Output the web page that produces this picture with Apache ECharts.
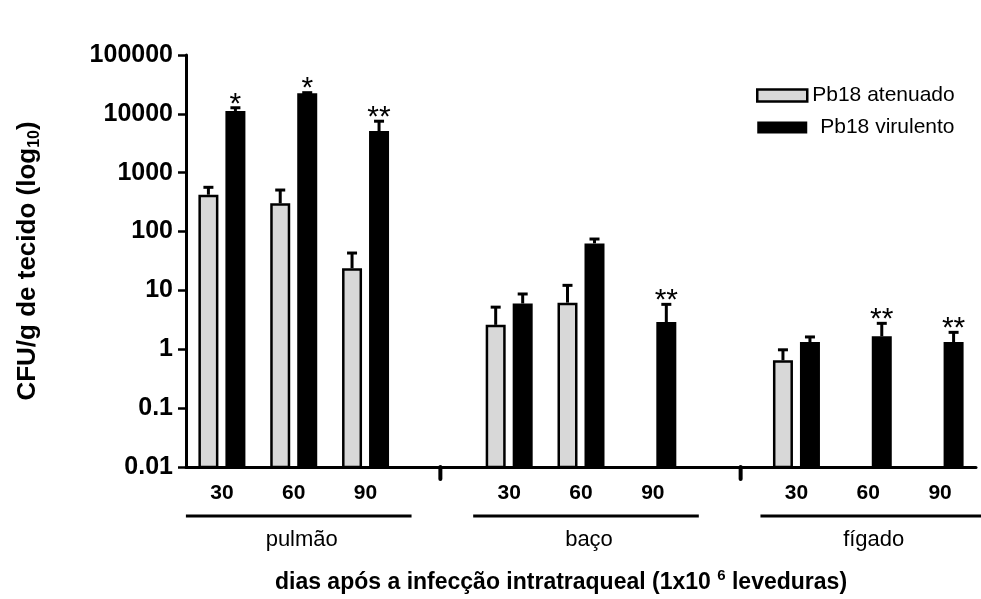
<!DOCTYPE html>
<html>
<head>
<meta charset="utf-8">
<script src="https://cdn.jsdelivr.net/npm/echarts@6/dist/echarts.min.js"></script>
<style>
  html, body { margin: 0; padding: 0; background: #fff; }
  #chart { width: 981px; height: 599px; }
</style>
</head>
<body>
<div id="chart"></div>
<script>
// Organs and sampling days (x axis groups and tick labels)
const organs = ['pulmão', 'baço', 'fígado'];
const days = ['30', '60', '90'];
const yTickLabels = ['0.01', '0.1', '1', '10', '100', '1000', '10000', '100000'];
const seriesNames = ['Pb18 atenuado', 'Pb18 virulento'];

// CFU/g of tissue, ordered pulmão 30/60/90, baço 30/60/90, fígado 30/60/90
const atenuadoMean = [423, 302, 23.8, 2.6, 6.2, null, 0.65, null, null];
const atenuadoErr  = [142, 206, 19.4, 2.6, 6.0, null, 0.33, null, null];
const atenuadoSig  = ['', '', '', '', '', '', '', '', ''];
const virulentoMean = [11200, 22300, 5100, 6.0, 63, 2.9, 1.33, 1.66, 1.33];
const virulentoErr  = [1500, 600, 2400, 2.7, 11.7, 2.9, 0.29, 1.1, 0.61];
const virulentoSig  = ['*', '*', '**', '', '', '**', '', '**', '**'];

const Y_MIN = 0.01, Y_MAX = 100000;
const FONT = '"Liberation Sans", Arial, sans-serif';

// Category slots: three days per organ, with an empty slot between organs
const catKeys = [], catLabels = [], slotOf = [];
organs.forEach((organ, o) => {
  days.forEach(d => { slotOf.push(catKeys.length); catKeys.push(organ + ' ' + d); catLabels.push(d); });
  if (o < organs.length - 1) { catKeys.push('gap' + o); catLabels.push(''); }
});

function buildData(means, errs) {
  const out = [];
  means.forEach((m, i) => { if (m != null) out.push([catKeys[slotOf[i]], m, errs[i], i]); });
  return out;
}

function barRenderer(shift, fill, stroke, sigs) {
  const BW = 20;
  return function (params, api) {
    const x = api.value(0), mean = api.value(1), err = api.value(2), idx = api.value(3);
    const top = api.coord([x, mean]);
    const base = api.coord([x, Y_MIN]);
    const cap = api.coord([x, mean + err]);
    const cx = top[0] + shift;
    const lw = stroke ? 2.5 : 0;
    const children = [
      { type: 'line', shape: { x1: cx, y1: top[1], x2: cx, y2: cap[1] }, style: { stroke: '#000', lineWidth: 3 } },
      { type: 'line', shape: { x1: cx - 5, y1: cap[1], x2: cx + 5, y2: cap[1] }, style: { stroke: '#000', lineWidth: 3 } },
      { type: 'rect',
        shape: { x: cx - (BW - lw) / 2, y: top[1] + lw / 2, width: BW - lw, height: base[1] - top[1] - lw / 2 },
        style: { fill: fill, stroke: stroke || null, lineWidth: lw } }
    ];
    const s = sigs[idx];
    if (s) {
      children.push({ type: 'text', x: cx, y: cap[1] - 3.5,
        style: { text: s, fill: '#000', font: '30px ' + FONT, align: 'center', verticalAlign: 'middle' } });
    }
    return { type: 'group', children: children };
  };
}

const chart = echarts.init(document.getElementById('chart'), null, { renderer: 'canvas' });

const option = {
  backgroundColor: '#fff',
  animation: false,
  grid: { left: 186, right: 5, top: 55, bottom: 132 },
  legend: {
    orient: 'vertical', left: 751, top: 80, itemWidth: 50, itemHeight: 12, itemGap: 11,
    textStyle: { fontFamily: FONT, fontSize: 21, color: '#000' },
    data: [
      { name: seriesNames[0], icon: 'rect', itemStyle: { color: '#d8d8d8', borderColor: '#000', borderWidth: 2.5 },
        textStyle: { padding: [0, 0, 0, 0] } },
      { name: seriesNames[1], icon: 'rect', itemStyle: { color: '#000' },
        textStyle: { padding: [0, 0, 0, 8] } }
    ]
  },
  xAxis: {
    type: 'category', data: catKeys,
    axisLine: { lineStyle: { color: '#000', width: 3 } },
    axisTick: { show: false },
    axisLabel: { interval: 0, margin: 16, color: '#000', fontFamily: FONT, fontWeight: 'bold', fontSize: 21,
      formatter: (v, i) => catLabels[i] },
    name: '{a|dias após a infecção intratraqueal (1x10 }{sup|6}{a| leveduras)}',
    nameLocation: 'middle', nameGap: 101,
    nameTextStyle: { padding: [0, 40, 0, 0],
      rich: {
        a: { fontFamily: FONT, fontWeight: 'bold', fontSize: 23, color: '#000', lineHeight: 26 },
        sup: { fontFamily: FONT, fontWeight: 'bold', fontSize: 15, color: '#000', padding: [0, 0, 14, 0] }
      } }
  },
  yAxis: {
    type: 'log', logBase: 10, min: Y_MIN, max: Y_MAX, interval: 1,
    axisLine: { show: true, lineStyle: { color: '#000', width: 3 } },
    axisTick: { show: true, length: 8, lineStyle: { color: '#000', width: 2.5 } },
    splitLine: { show: false },
    axisLabel: { margin: 13, color: '#000', fontFamily: FONT, fontWeight: 'bold', fontSize: 25,
      formatter: v => yTickLabels[Math.round(Math.log10(v)) + 2] },
    name: '{a|CFU/g de tecido (log}{sub|10}{a|)}',
    nameLocation: 'middle', nameRotate: 90, nameGap: 143,
    nameTextStyle: {
      rich: {
        a: { fontFamily: FONT, fontWeight: 'bold', fontSize: 26, color: '#000', lineHeight: 30 },
        sub: { fontFamily: FONT, fontWeight: 'bold', fontSize: 16, color: '#000', verticalAlign: 'bottom', lineHeight: 30 }
      } }
  },
  series: [
    { name: seriesNames[0], type: 'custom', itemStyle: { color: '#d8d8d8' },
      renderItem: barRenderer(-13.5, '#d8d8d8', '#000', atenuadoSig),
      encode: { x: 0, y: 1 }, data: buildData(atenuadoMean, atenuadoErr) },
    { name: seriesNames[1], type: 'custom', itemStyle: { color: '#000' },
      renderItem: barRenderer(13.5, '#000', null, virulentoSig),
      encode: { x: 0, y: 1 }, data: buildData(virulentoMean, virulentoErr) }
  ]
};
chart.setOption(option);

// Organ group underlines, organ names and axis break marks below the category axis
const px = key => chart.convertToPixel({ xAxisIndex: 0 }, key);
const axisY = chart.convertToPixel({ yAxisIndex: 0 }, Y_MIN);
const graphics = [];
organs.forEach((organ, o) => {
  const x0 = px(catKeys[slotOf[o * 3]]) - 36;
  const x1 = Math.min(px(catKeys[slotOf[o * 3 + 2]]) + 46, 981);
  graphics.push({ type: 'line', shape: { x1: x0, y1: axisY + 49, x2: x1, y2: axisY + 49 }, style: { stroke: '#000', lineWidth: 3 } });
  graphics.push({ type: 'text', x: (x0 + x1) / 2 + 3, y: axisY + 73,
    style: { text: organ, fill: '#000', font: '22px ' + FONT, align: 'center', verticalAlign: 'middle' } });
});
const breakShift = [3, 16];
['gap0', 'gap1'].forEach((k, i) => {
  const x = px(k) + breakShift[i];
  graphics.push({ type: 'line', shape: { x1: x, y1: axisY, x2: x, y2: axisY + 12 },
    style: { stroke: '#000', lineWidth: 4, lineCap: 'round' } });
});
chart.setOption({ graphic: graphics });
</script>
</body>
</html>
